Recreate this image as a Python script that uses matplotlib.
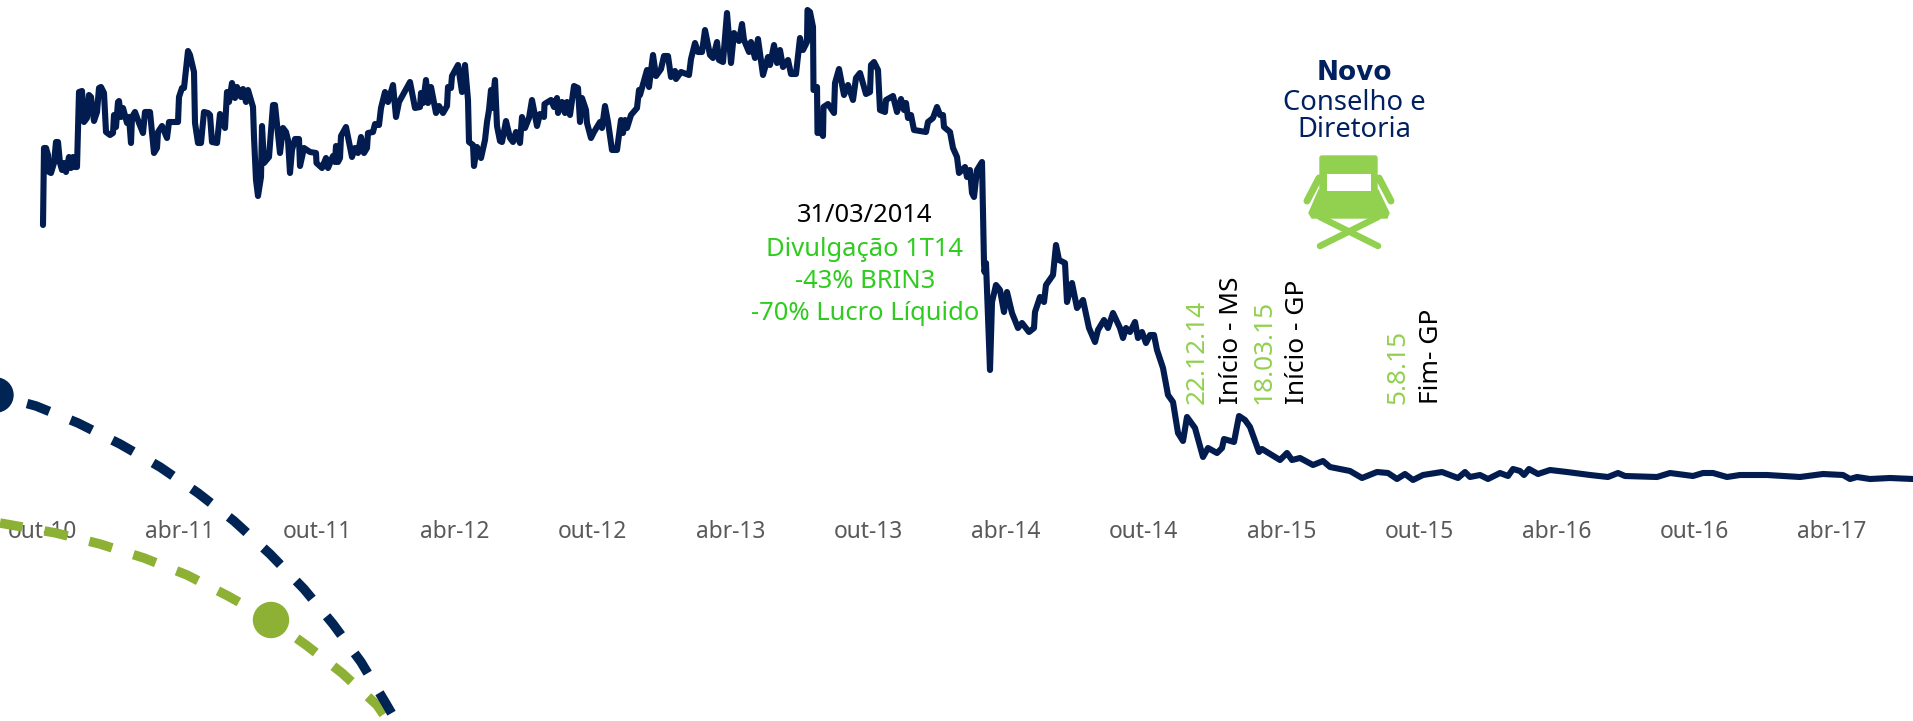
import numpy as np
import matplotlib
matplotlib.use("Agg")
import matplotlib.pyplot as plt
from matplotlib.patches import Polygon, Circle, Rectangle, FancyBboxPatch

plt.rcParams['font.family'] = ['Noto Sans', 'DejaVu Sans']

# BRIN3 series: session position and level (level grows downwards)
sessao = [43,44,46,48,49,51,54,56,58,60,62,64,66,69,71,73,75,77,79,82,84,87,89,91,94,97,99,101,104,106,110,113,114,116,118,119,121,123,127,129,131,132,135,139,143,145,150,154,157,158,162,167,169,178,179,182,184,188,190,194,195,198,201,204,208,210,212,217,220,225,227,229,232,235,237,241,243,246,248,253,254,256,258,261,262,264,269,273,275,280,283,286,288,290,292,295,299,300,304,310,316,316.5,322,326,328,333,335,336,338,340,341,346,349,352,355,358,361,364,367,368,373,375,379,381,385,388,393,396,399,404,410,415,420,421,423,426,428,431,436,439,443,447,448,451,452,458,462,465,468,469,473,474,477,481,485,487,489,491,492,495,497,500,502,506,510,513,516,520,522,525,529,532,537,540,544,544.5,551,554,557,558,562,565,567,570,574,578,580,582,586,587,591,594,600,602,605,608,612,617,621,623,625,627,631,637,639,640,647,649,653,656,661,664,668,671,675,676,681,689,691,695,698,702,705,710,713,717,719,723,727,731,734,739,742,744,749,751,755,758,763,768,770,774,777,780,783,788,791,796,800,803,807,807.5,810,813,813.5,817,817.5,821,823,823.5,828,834,835,839,844,848,853,856,860,866,870,871,874,878,880,885,886,893,897,901,904,906,908,911,914,926,928,933,937,940,943,944,950,953,957,959,965,967,970,972,974,977,982,984,984.5,986,990,992,996,1000,1004,1007,1012,1018,1022,1029,1034,1035,1040,1044,1046,1053,1056,1059,1065,1067,1072,1077,1083,1089,1095,1098,1104,1108,1113,1120,1123,1126,1130,1135,1138,1142,1146,1150,1154,1157,1163,1168,1173,1178,1183,1187,1195,1203,1208,1217,1222,1224,1234,1239,1245,1250,1259,1262,1280,1287,1292,1300,1313,1323,1330,1350,1362,1377,1388,1397,1405,1413,1423,1442,1458,1465,1470,1480,1488,1500,1508,1513,1520,1524,1529,1538,1550,1567,1590,1608,1618,1625,1657,1670,1693,1703,1713,1727,1740,1767,1800,1823,1843,1850,1857,1870,1890,1913]
nivel = [225,148,148,155,172,173,163,142,142,163,170,163,172,157,168,157,167,167,92,91,122,118,95,97,121,112,88,87,93,132,135,133,115,127,102,101,117,108,123,117,143,117,112,123,133,112,112,153,148,132,126,138,122,122,97,88,88,51,55,72,123,143,143,112,113,115,142,143,114,128,92,102,83,98,87,97,89,102,90,107,137,180,196,177,126,163,157,105,105,153,128,132,140,173,150,139,139,166,148,152,153,163,168,158,168,156,162,146,162,158,136,127,142,157,148,153,137,153,148,133,132,124,125,108,92,102,85,117,102,93,82,108,107,93,103,80,103,87,113,106,113,106,87,88,76,65,92,65,100,142,145,166,147,158,140,122,110,90,108,80,126,141,142,121,138,142,132,143,117,128,118,100,126,114,117,104,100,107,98,113,102,113,102,115,86,88,122,98,110,123,138,132,122,128,106,122,150,150,120,133,120,128,115,108,90,95,70,87,55,76,69,56,56,77,71,79,72,75,59,43,52,52,30,55,58,42,60,62,13,63,33,41,24,40,52,42,58,39,75,57,65,45,63,50,67,60,74,74,38,50,42,10,12,27,90,87,133,132,136,107,104,113,83,69,95,85,100,78,73,94,92,65,62,70,110,112,100,96,112,99,110,103,118,115,130,132,122,118,107,115,115,127,132,148,157,173,167,177,170,193,197,170,162,263,272,263,370,302,285,290,312,292,313,328,323,332,328,312,297,302,285,275,245,260,263,302,283,308,300,328,342,330,320,328,313,328,338,328,332,322,338,332,343,335,335,350,368,395,402,433,441,417,428,457,448,453,448,439,442,416,420,427,452,449,460,453,460,458,465,461,467,471,478,472,473,479,474,480,475,472,478,472,477,475,479,473,476,469,471,475,469,474,470,472,475,477,473,476,477,473,476,473,473,477,475,475,477,474,475,479,477,479,478,479]

tick_labels = ['out-10','abr-11','out-11','abr-12','out-12','abr-13','out-13','abr-14','out-14','abr-15','out-15','abr-16','out-16','abr-17']
tick_first = 42
tick_step = 137.7

# decorative dashed arcs
arc_azul_x = [-4,36,78,120,160,198,234,270,304,333,361,385,392]
arc_azul_y = [395,406,423,444,467,493,521,554,589,624,662,702,714]
arc_verde_x = [0,56,100,144,187,228,271,306,342,377,388]
arc_verde_y = [523,533,544,558,575,596,620,645,673,705,721]

W, H = 1913, 721
BASE = 505
NAVY = '#031c50'
fig = plt.figure(figsize=(W/100, H/100), dpi=100, facecolor='white')
ax = fig.add_axes([0, 1-BASE/H, 1, BASE/H])
ax.plot(sessao, nivel, color=NAVY, lw=4.4, solid_joinstyle='round', solid_capstyle='round', clip_on=False)
ax.set_xlim(0, W)
ax.set_ylim(BASE, 0)
ax.set_yticks([])
ax.set_xticks([tick_first + i*tick_step for i in range(len(tick_labels))])
ax.set_xticklabels(tick_labels, fontsize=16.4, color='#595959')
ax.tick_params(axis='x', length=0, pad=11)
for s in ax.spines.values():
    s.set_visible(False)
ax.patch.set_alpha(0)

ov = fig.add_axes([0, 0, 1, 1])
ov.set_xlim(0, W); ov.set_ylim(H, 0); ov.axis('off'); ov.patch.set_alpha(0)

LW = 9.5*0.72
ov.plot(arc_azul_x, arc_azul_y, color='#002554', lw=LW, ls=(1.84, (2.5, 2.4)), dash_capstyle='butt', zorder=3)
ov.plot(arc_verde_x, arc_verde_y, color='#8cb135', lw=LW, ls=(0.1, (2.5, 2.35)), dash_capstyle='butt', zorder=2)
ov.add_patch(Circle((-4, 395), 17, color='#002554', zorder=3))
ov.add_patch(Circle((271, 620), 17.5, color='#8cb135', zorder=3))

GREEN = '#2fcc1f'
LIGHT = '#92d050'
ann = dict(ha='center', va='center', fontsize=18.4)
ov.text(865, 215, '31/03/2014', color='black', **ann)
ov.text(865, 249, 'Divulgação 1T14', color=GREEN, **ann)
ov.text(865, 281, '-43% BRIN3', color=GREEN, **ann)
ov.text(865, 314, '-70% Lucro Líquido', color=GREEN, **ann)

rot = dict(rotation=90, ha='center', va='bottom', fontsize=18.9)
ov.text(1197, 404, '22.12.14', color=LIGHT, **rot)
ov.text(1231, 404, 'Início - MS', color='black', **rot)
ov.text(1264, 404, '18.03.15', color=LIGHT, **rot)
ov.text(1298, 404, 'Início - GP', color='black', **rot)
ov.text(1398, 404, '5.8.15', color=LIGHT, **rot)
ov.text(1431, 404, 'Fim- GP', color='black', **rot)

ov.text(1354, 73, 'Novo', color='#002060', fontsize=19, fontweight='bold', family='DejaVu Sans', ha='center', va='center')
ov.text(1354, 103, 'Conselho e', color='#002060', fontsize=19.7, ha='center', va='center')
ov.text(1354, 130, 'Diretoria', color='#002060', fontsize=19.7, ha='center', va='center')

# chair icon
C = LIGHT
ov.add_patch(FancyBboxPatch((1320, 156), 57, 40, boxstyle='round,pad=0,rounding_size=2', fc=C, ec=C, lw=1))
ov.add_patch(Polygon([(1319,190),(1378,190),(1389,213),(1387,218),(1312,218),(1309,213)], fc=C, ec=C))
ov.add_patch(Rectangle((1327, 174), 44, 17, fc='white', ec='none', zorder=3))
for xs, ys, w in [((1319,1307),(178,201),7), ((1379,1391),(178,201),7),
                  ((1320,1378),(217,246),6.5), ((1378,1320),(217,246),6.5)]:
    ov.plot(xs, ys, color=C, lw=w*0.72, solid_capstyle='round')

fig.savefig('out.png', dpi=100, facecolor='white')
